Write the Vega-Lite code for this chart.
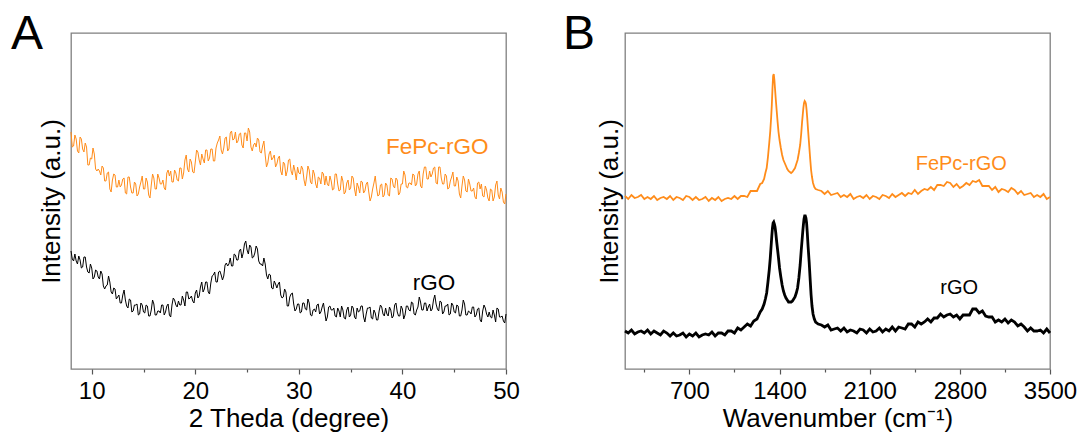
{
"$schema": "https://vega.github.io/schema/vega-lite/v6.json",
"background": "white",
"autosize": {"type": "pad"},
"padding": {"left": 10, "top": 10, "right": 0, "bottom": 0},
"spacing": 42,
"config": {
  "font": "Liberation Sans, Arial, sans-serif",
  "view": {"stroke": "#7f7f7f", "strokeWidth": 1.3},
  "axis": {"grid": false, "labelColor": "#000", "titleColor": "#000", "titleFontWeight": "normal", "labelFont": "Liberation Sans, Arial, sans-serif", "titleFont": "Liberation Sans, Arial, sans-serif"}
},
"datasets": {
"xrdF": [{"x":8,"v":237},{"x":8.25,"v":223},{"x":8.5,"v":230},{"x":8.75,"v":216},{"x":9,"v":230},{"x":9.25,"v":217},{"x":9.5,"v":222},{"x":9.75,"v":204},{"x":10,"v":210},{"x":10.25,"v":215},{"x":10.5,"v":198},{"x":10.75,"v":198},{"x":11,"v":203},{"x":11.25,"v":188},{"x":11.5,"v":196},{"x":11.75,"v":180},{"x":12,"v":189},{"x":12.25,"v":194},{"x":12.5,"v":182},{"x":12.75,"v":182},{"x":13,"v":190},{"x":13.25,"v":176},{"x":13.5,"v":192},{"x":13.75,"v":182},{"x":14,"v":176},{"x":14.25,"v":185},{"x":14.5,"v":175},{"x":14.75,"v":187},{"x":15,"v":180},{"x":15.25,"v":191},{"x":15.5,"v":174},{"x":15.75,"v":184},{"x":16,"v":191},{"x":16.25,"v":180},{"x":16.5,"v":191},{"x":16.75,"v":185},{"x":17,"v":181},{"x":17.25,"v":196},{"x":17.5,"v":193},{"x":17.75,"v":187},{"x":18,"v":199},{"x":18.25,"v":189},{"x":18.5,"v":201},{"x":18.75,"v":190},{"x":19,"v":209},{"x":19.25,"v":200},{"x":19.5,"v":210},{"x":19.75,"v":197},{"x":20,"v":207},{"x":20.25,"v":217},{"x":20.5,"v":204},{"x":20.75,"v":210},{"x":21,"v":219},{"x":21.25,"v":208},{"x":21.5,"v":220},{"x":21.75,"v":208},{"x":22,"v":221},{"x":22.25,"v":229},{"x":22.5,"v":219},{"x":22.75,"v":221},{"x":23,"v":232},{"x":23.25,"v":220},{"x":23.5,"v":238},{"x":23.75,"v":230},{"x":24,"v":226},{"x":24.25,"v":235},{"x":24.5,"v":224},{"x":24.75,"v":236},{"x":25,"v":228},{"x":25.25,"v":237},{"x":25.5,"v":218},{"x":25.75,"v":226},{"x":26,"v":231},{"x":26.25,"v":217},{"x":26.5,"v":223},{"x":26.75,"v":214},{"x":27,"v":206},{"x":27.25,"v":218},{"x":27.5,"v":211},{"x":27.75,"v":202},{"x":28,"v":211},{"x":28.25,"v":198},{"x":28.5,"v":207},{"x":28.75,"v":193},{"x":29,"v":209},{"x":29.25,"v":198},{"x":29.5,"v":204},{"x":29.75,"v":189},{"x":30,"v":196},{"x":30.25,"v":203},{"x":30.5,"v":189},{"x":30.75,"v":192},{"x":31,"v":199},{"x":31.25,"v":185},{"x":31.5,"v":195},{"x":31.75,"v":181},{"x":32,"v":191},{"x":32.25,"v":197},{"x":32.5,"v":184},{"x":32.75,"v":185},{"x":33,"v":193},{"x":33.25,"v":179},{"x":33.5,"v":195},{"x":33.75,"v":185},{"x":34,"v":179},{"x":34.25,"v":188},{"x":34.5,"v":177},{"x":34.75,"v":189},{"x":35,"v":181},{"x":35.25,"v":191},{"x":35.5,"v":173},{"x":35.75,"v":182},{"x":36,"v":188},{"x":36.25,"v":176},{"x":36.5,"v":185},{"x":36.75,"v":177},{"x":37,"v":172},{"x":37.25,"v":186},{"x":37.5,"v":181},{"x":37.75,"v":174},{"x":38,"v":185},{"x":38.25,"v":174},{"x":38.5,"v":184},{"x":38.75,"v":173},{"x":39,"v":190},{"x":39.25,"v":181},{"x":39.5,"v":189},{"x":39.75,"v":176},{"x":40,"v":185},{"x":40.25,"v":194},{"x":40.5,"v":181},{"x":40.75,"v":186},{"x":41,"v":195},{"x":41.25,"v":183},{"x":41.5,"v":195},{"x":41.75,"v":183},{"x":42,"v":195},{"x":42.25,"v":202},{"x":42.5,"v":190},{"x":42.75,"v":192},{"x":43,"v":201},{"x":43.25,"v":186},{"x":43.5,"v":202},{"x":43.75,"v":191},{"x":44,"v":185},{"x":44.25,"v":193},{"x":44.5,"v":181},{"x":44.75,"v":192},{"x":45,"v":183},{"x":45.25,"v":192},{"x":45.5,"v":175},{"x":45.75,"v":183},{"x":46,"v":189},{"x":46.25,"v":177},{"x":46.5,"v":185},{"x":46.75,"v":178},{"x":47,"v":172},{"x":47.25,"v":186},{"x":47.5,"v":180},{"x":47.75,"v":173},{"x":48,"v":183},{"x":48.25,"v":171},{"x":48.5,"v":180},{"x":48.75,"v":168},{"x":49,"v":184},{"x":49.25,"v":174},{"x":49.5,"v":181},{"x":49.75,"v":167},{"x":50,"v":175},
{"x":8.125,"v":222},{"x":8.375,"v":234},{"x":8.625,"v":218},{"x":8.875,"v":232},{"x":9.125,"v":220},{"x":9.375,"v":226},{"x":9.625,"v":204},{"x":9.875,"v":211},{"x":10.125,"v":221},{"x":10.375,"v":200},{"x":10.625,"v":200},{"x":10.875,"v":194},{"x":11.125,"v":201},{"x":11.375,"v":188},{"x":11.625,"v":197},{"x":11.875,"v":177},{"x":12.125,"v":195},{"x":12.375,"v":182},{"x":12.625,"v":189},{"x":12.875,"v":184},{"x":13.125,"v":191},{"x":13.375,"v":175},{"x":13.625,"v":192},{"x":13.875,"v":176},{"x":14.125,"v":187},{"x":14.375,"v":173},{"x":14.625,"v":182},{"x":14.875,"v":193},{"x":15.125,"v":180},{"x":15.375,"v":187},{"x":15.625,"v":171},{"x":15.875,"v":195},{"x":16.125,"v":180},{"x":16.375,"v":195},{"x":16.625,"v":185},{"x":16.875,"v":189},{"x":17.125,"v":179},{"x":17.375,"v":199},{"x":17.625,"v":198},{"x":17.875,"v":187},{"x":18.125,"v":196},{"x":18.375,"v":188},{"x":18.625,"v":201},{"x":18.875,"v":196},{"x":19.125,"v":214},{"x":19.375,"v":197},{"x":19.625,"v":207},{"x":19.875,"v":196},{"x":20.125,"v":219},{"x":20.375,"v":209},{"x":20.625,"v":215},{"x":20.875,"v":206},{"x":21.125,"v":219},{"x":21.375,"v":211},{"x":21.625,"v":220},{"x":21.875,"v":208},{"x":22.125,"v":226},{"x":22.375,"v":233},{"x":22.625,"v":215},{"x":22.875,"v":231},{"x":23.125,"v":218},{"x":23.375,"v":236},{"x":23.625,"v":229},{"x":23.875,"v":237},{"x":24.125,"v":228},{"x":24.375,"v":236},{"x":24.625,"v":221},{"x":24.875,"v":236},{"x":25.125,"v":241},{"x":25.375,"v":222},{"x":25.625,"v":224},{"x":25.875,"v":222},{"x":26.125,"v":229},{"x":26.375,"v":216},{"x":26.625,"v":228},{"x":26.875,"v":202},{"x":27.125,"v":215},{"x":27.375,"v":209},{"x":27.625,"v":214},{"x":27.875,"v":205},{"x":28.125,"v":213},{"x":28.375,"v":194},{"x":28.625,"v":205},{"x":28.875,"v":198},{"x":29.125,"v":210},{"x":29.375,"v":194},{"x":29.625,"v":198},{"x":29.875,"v":202},{"x":30.125,"v":195},{"x":30.375,"v":200},{"x":30.625,"v":183},{"x":30.875,"v":203},{"x":31.125,"v":187},{"x":31.375,"v":199},{"x":31.625,"v":185},{"x":31.875,"v":192},{"x":32.125,"v":185},{"x":32.375,"v":195},{"x":32.625,"v":193},{"x":32.875,"v":183},{"x":33.125,"v":188},{"x":33.375,"v":180},{"x":33.625,"v":195},{"x":33.875,"v":178},{"x":34.125,"v":193},{"x":34.375,"v":175},{"x":34.625,"v":186},{"x":34.875,"v":179},{"x":35.125,"v":193},{"x":35.375,"v":180},{"x":35.625,"v":186},{"x":35.875,"v":176},{"x":36.125,"v":187},{"x":36.375,"v":178},{"x":36.625,"v":187},{"x":36.875,"v":168},{"x":37.125,"v":180},{"x":37.375,"v":193},{"x":37.625,"v":173},{"x":37.875,"v":184},{"x":38.125,"v":172},{"x":38.375,"v":186},{"x":38.625,"v":174},{"x":38.875,"v":191},{"x":39.125,"v":183},{"x":39.375,"v":191},{"x":39.625,"v":174},{"x":39.875,"v":185},{"x":40.125,"v":198},{"x":40.375,"v":182},{"x":40.625,"v":186},{"x":40.875,"v":184},{"x":41.125,"v":194},{"x":41.375,"v":185},{"x":41.625,"v":198},{"x":41.875,"v":181},{"x":42.125,"v":202},{"x":42.375,"v":190},{"x":42.625,"v":198},{"x":42.875,"v":195},{"x":43.125,"v":202},{"x":43.375,"v":185},{"x":43.625,"v":202},{"x":43.875,"v":185},{"x":44.125,"v":195},{"x":44.375,"v":180},{"x":44.625,"v":188},{"x":44.875,"v":197},{"x":45.125,"v":183},{"x":45.375,"v":188},{"x":45.625,"v":171},{"x":45.875,"v":193},{"x":46.125,"v":178},{"x":46.375,"v":190},{"x":46.625,"v":178},{"x":46.875,"v":181},{"x":47.125,"v":170},{"x":47.375,"v":187},{"x":47.625,"v":185},{"x":47.875,"v":172},{"x":48.125,"v":179},{"x":48.375,"v":168},{"x":48.625,"v":179},{"x":48.875,"v":172},{"x":49.125,"v":188},{"x":49.375,"v":170},{"x":49.625,"v":177},{"x":49.875,"v":165}],
"xrdR": [{"x":8,"v":118},{"x":8.25,"v":108},{"x":8.5,"v":108},{"x":8.75,"v":113},{"x":9,"v":101},{"x":9.25,"v":112},{"x":9.5,"v":102},{"x":9.75,"v":96},{"x":10,"v":101},{"x":10.25,"v":92},{"x":10.5,"v":98},{"x":10.75,"v":90},{"x":11,"v":95},{"x":11.25,"v":80},{"x":11.5,"v":84},{"x":11.75,"v":87},{"x":12,"v":75},{"x":12.25,"v":80},{"x":12.5,"v":72},{"x":12.75,"v":66},{"x":13,"v":74},{"x":13.25,"v":69},{"x":13.5,"v":61},{"x":13.75,"v":69},{"x":14,"v":58},{"x":14.25,"v":64},{"x":14.5,"v":54},{"x":14.75,"v":66},{"x":15,"v":57},{"x":15.25,"v":64},{"x":15.5,"v":53},{"x":15.75,"v":59},{"x":16,"v":65},{"x":16.25,"v":54},{"x":16.5,"v":58},{"x":16.75,"v":64},{"x":17,"v":54},{"x":17.25,"v":63},{"x":17.5,"v":54},{"x":17.75,"v":64},{"x":18,"v":69},{"x":18.25,"v":62},{"x":18.5,"v":64},{"x":18.75,"v":73},{"x":19,"v":63},{"x":19.25,"v":77},{"x":19.5,"v":71},{"x":19.75,"v":68},{"x":20,"v":76},{"x":20.25,"v":71},{"x":20.5,"v":82},{"x":20.75,"v":77},{"x":21,"v":87},{"x":21.25,"v":77},{"x":21.5,"v":86},{"x":21.75,"v":94},{"x":22,"v":87},{"x":22.25,"v":97},{"x":22.5,"v":94},{"x":22.75,"v":93},{"x":23,"v":106},{"x":23.25,"v":105},{"x":23.5,"v":103},{"x":23.75,"v":115},{"x":24,"v":109},{"x":24.25,"v":118},{"x":24.5,"v":111},{"x":24.75,"v":125},{"x":25,"v":119},{"x":25.25,"v":124},{"x":25.5,"v":111},{"x":25.75,"v":116},{"x":26,"v":120},{"x":26.25,"v":105},{"x":26.5,"v":103},{"x":26.75,"v":105},{"x":27,"v":90},{"x":27.25,"v":94},{"x":27.5,"v":80},{"x":27.75,"v":85},{"x":28,"v":85},{"x":28.25,"v":74},{"x":28.5,"v":72},{"x":28.75,"v":77},{"x":29,"v":63},{"x":29.25,"v":75},{"x":29.5,"v":65},{"x":29.75,"v":60},{"x":30,"v":65},{"x":30.25,"v":57},{"x":30.5,"v":66},{"x":30.75,"v":59},{"x":31,"v":66},{"x":31.25,"v":53},{"x":31.5,"v":60},{"x":31.75,"v":64},{"x":32,"v":55},{"x":32.25,"v":62},{"x":32.5,"v":57},{"x":32.75,"v":52},{"x":33,"v":63},{"x":33.25,"v":59},{"x":33.5,"v":53},{"x":33.75,"v":61},{"x":34,"v":52},{"x":34.25,"v":59},{"x":34.5,"v":50},{"x":34.75,"v":62},{"x":35,"v":54},{"x":35.25,"v":61},{"x":35.5,"v":50},{"x":35.75,"v":57},{"x":36,"v":63},{"x":36.25,"v":52},{"x":36.5,"v":55},{"x":36.75,"v":61},{"x":37,"v":51},{"x":37.25,"v":59},{"x":37.5,"v":49},{"x":37.75,"v":58},{"x":38,"v":62},{"x":38.25,"v":53},{"x":38.5,"v":55},{"x":38.75,"v":62},{"x":39,"v":51},{"x":39.25,"v":64},{"x":39.5,"v":57},{"x":39.75,"v":53},{"x":40,"v":60},{"x":40.25,"v":54},{"x":40.5,"v":63},{"x":40.75,"v":58},{"x":41,"v":66},{"x":41.25,"v":54},{"x":41.5,"v":62},{"x":41.75,"v":67},{"x":42,"v":59},{"x":42.25,"v":66},{"x":42.5,"v":62},{"x":42.75,"v":58},{"x":43,"v":69},{"x":43.25,"v":65},{"x":43.5,"v":58},{"x":43.75,"v":67},{"x":44,"v":57},{"x":44.25,"v":63},{"x":44.5,"v":54},{"x":44.75,"v":66},{"x":45,"v":57},{"x":45.25,"v":64},{"x":45.5,"v":53},{"x":45.75,"v":59},{"x":46,"v":65},{"x":46.25,"v":54},{"x":46.5,"v":57},{"x":46.75,"v":62},{"x":47,"v":52},{"x":47.25,"v":60},{"x":47.5,"v":49},{"x":47.75,"v":58},{"x":48,"v":61},{"x":48.25,"v":52},{"x":48.5,"v":52},{"x":48.75,"v":59},{"x":49,"v":47},{"x":49.25,"v":60},{"x":49.5,"v":52},{"x":49.75,"v":48},{"x":50,"v":55},
{"x":8.125,"v":110},{"x":8.375,"v":115},{"x":8.625,"v":105},{"x":8.875,"v":109},{"x":9.125,"v":102},{"x":9.375,"v":112},{"x":9.625,"v":97},{"x":9.875,"v":105},{"x":10.125,"v":90},{"x":10.375,"v":99},{"x":10.625,"v":92},{"x":10.875,"v":98},{"x":11.125,"v":83},{"x":11.375,"v":83},{"x":11.625,"v":93},{"x":11.875,"v":77},{"x":12.125,"v":81},{"x":12.375,"v":70},{"x":12.625,"v":74},{"x":12.875,"v":66},{"x":13.125,"v":79},{"x":13.375,"v":63},{"x":13.625,"v":70},{"x":13.875,"v":57},{"x":14.125,"v":64},{"x":14.375,"v":65},{"x":14.625,"v":55},{"x":14.875,"v":64},{"x":15.125,"v":56},{"x":15.375,"v":63},{"x":15.625,"v":53},{"x":15.875,"v":69},{"x":16.125,"v":54},{"x":16.375,"v":58},{"x":16.625,"v":56},{"x":16.875,"v":64},{"x":17.125,"v":57},{"x":17.375,"v":65},{"x":17.625,"v":52},{"x":17.875,"v":71},{"x":18.125,"v":64},{"x":18.375,"v":68},{"x":18.625,"v":64},{"x":18.875,"v":69},{"x":19.125,"v":77},{"x":19.375,"v":70},{"x":19.625,"v":73},{"x":19.875,"v":66},{"x":20.125,"v":79},{"x":20.375,"v":73},{"x":20.625,"v":87},{"x":20.875,"v":80},{"x":21.125,"v":87},{"x":21.375,"v":75},{"x":21.625,"v":93},{"x":21.875,"v":97},{"x":22.125,"v":87},{"x":22.375,"v":98},{"x":22.625,"v":89},{"x":22.875,"v":104},{"x":23.125,"v":103},{"x":23.375,"v":111},{"x":23.625,"v":103},{"x":23.875,"v":114},{"x":24.125,"v":109},{"x":24.375,"v":120},{"x":24.625,"v":116},{"x":24.875,"v":128},{"x":25.125,"v":115},{"x":25.375,"v":122},{"x":25.625,"v":112},{"x":25.875,"v":123},{"x":26.125,"v":108},{"x":26.375,"v":105},{"x":26.625,"v":111},{"x":26.875,"v":94},{"x":27.125,"v":95},{"x":27.375,"v":81},{"x":27.625,"v":88},{"x":27.875,"v":81},{"x":28.125,"v":87},{"x":28.375,"v":71},{"x":28.625,"v":80},{"x":28.875,"v":63},{"x":29.125,"v":72},{"x":29.375,"v":76},{"x":29.625,"v":58},{"x":29.875,"v":65},{"x":30.125,"v":56},{"x":30.375,"v":66},{"x":30.625,"v":60},{"x":30.875,"v":70},{"x":31.125,"v":54},{"x":31.375,"v":59},{"x":31.625,"v":57},{"x":31.875,"v":65},{"x":32.125,"v":57},{"x":32.375,"v":66},{"x":32.625,"v":48},{"x":32.875,"v":62},{"x":33.125,"v":59},{"x":33.375,"v":61},{"x":33.625,"v":52},{"x":33.875,"v":58},{"x":34.125,"v":63},{"x":34.375,"v":51},{"x":34.625,"v":59},{"x":34.875,"v":52},{"x":35.125,"v":63},{"x":35.375,"v":52},{"x":35.625,"v":61},{"x":35.875,"v":58},{"x":36.125,"v":63},{"x":36.375,"v":47},{"x":36.625,"v":61},{"x":36.875,"v":62},{"x":37.125,"v":50},{"x":37.375,"v":56},{"x":37.625,"v":49},{"x":37.875,"v":64},{"x":38.125,"v":55},{"x":38.375,"v":61},{"x":38.625,"v":53},{"x":38.875,"v":59},{"x":39.125,"v":53},{"x":39.375,"v":66},{"x":39.625,"v":53},{"x":39.875,"v":63},{"x":40.125,"v":50},{"x":40.375,"v":63},{"x":40.625,"v":59},{"x":40.875,"v":67},{"x":41.125,"v":55},{"x":41.375,"v":59},{"x":41.625,"v":72},{"x":41.875,"v":59},{"x":42.125,"v":66},{"x":42.375,"v":58},{"x":42.625,"v":65},{"x":42.875,"v":60},{"x":43.125,"v":74},{"x":43.375,"v":60},{"x":43.625,"v":68},{"x":43.875,"v":55},{"x":44.125,"v":63},{"x":44.375,"v":65},{"x":44.625,"v":55},{"x":44.875,"v":64},{"x":45.125,"v":56},{"x":45.375,"v":63},{"x":45.625,"v":53},{"x":45.875,"v":69},{"x":46.125,"v":54},{"x":46.375,"v":58},{"x":46.625,"v":55},{"x":46.875,"v":62},{"x":47.125,"v":54},{"x":47.375,"v":61},{"x":47.625,"v":47},{"x":47.875,"v":64},{"x":48.125,"v":55},{"x":48.375,"v":57},{"x":48.625,"v":51},{"x":48.875,"v":54},{"x":49.125,"v":61},{"x":49.375,"v":52},{"x":49.625,"v":53},{"x":49.875,"v":46}],
"ramF": [{"x":200,"v":173},{"x":225,"v":170},{"x":250,"v":174},{"x":275,"v":171},{"x":300,"v":172},{"x":325,"v":174},{"x":350,"v":170},{"x":375,"v":172},{"x":400,"v":170},{"x":425,"v":173},{"x":450,"v":169},{"x":475,"v":171},{"x":500,"v":172},{"x":525,"v":170},{"x":550,"v":173},{"x":575,"v":169},{"x":600,"v":172},{"x":625,"v":171},{"x":650,"v":169},{"x":675,"v":173},{"x":700,"v":172},{"x":725,"v":169},{"x":750,"v":172},{"x":775,"v":169},{"x":800,"v":170},{"x":825,"v":172},{"x":850,"v":168},{"x":875,"v":171},{"x":900,"v":169},{"x":925,"v":172},{"x":950,"v":168},{"x":975,"v":170},{"x":1000,"v":171},{"x":1025,"v":170},{"x":1050,"v":173},{"x":1075,"v":170},{"x":1100,"v":173},{"x":1125,"v":173},{"x":1150,"v":172},{"x":1175,"v":178},{"x":1200,"v":178},{"x":1225,"v":178},{"x":1250,"v":185},{"x":1265,"v":186},{"x":1280,"v":190},{"x":1290,"v":196},{"x":1300,"v":201},{"x":1310,"v":212},{"x":1320,"v":226},{"x":1328,"v":238},{"x":1335,"v":252},{"x":1340,"v":264},{"x":1345,"v":280},{"x":1350,"v":293},{"x":1355,"v":295},{"x":1360,"v":289},{"x":1365,"v":280},{"x":1370,"v":271},{"x":1378,"v":258},{"x":1385,"v":247},{"x":1392,"v":237},{"x":1400,"v":229},{"x":1410,"v":221},{"x":1420,"v":214},{"x":1430,"v":209},{"x":1440,"v":206},{"x":1450,"v":203},{"x":1460,"v":200},{"x":1470,"v":198},{"x":1480,"v":197},{"x":1490,"v":196},{"x":1500,"v":197},{"x":1510,"v":199},{"x":1520,"v":201},{"x":1530,"v":205},{"x":1540,"v":209},{"x":1550,"v":216},{"x":1560,"v":224},{"x":1568,"v":235},{"x":1575,"v":247},{"x":1580,"v":254},{"x":1585,"v":261},{"x":1590,"v":266},{"x":1595,"v":268},{"x":1600,"v":267},{"x":1605,"v":265},{"x":1610,"v":259},{"x":1615,"v":251},{"x":1622,"v":238},{"x":1630,"v":224},{"x":1638,"v":210},{"x":1645,"v":199},{"x":1652,"v":192},{"x":1660,"v":186},{"x":1670,"v":182},{"x":1680,"v":180},{"x":1700,"v":179},{"x":1725,"v":178},{"x":1750,"v":175},{"x":1775,"v":178},{"x":1800,"v":174},{"x":1825,"v":175},{"x":1850,"v":176},{"x":1875,"v":172},{"x":1900,"v":174},{"x":1925,"v":172},{"x":1950,"v":175},{"x":1975,"v":170},{"x":2000,"v":172},{"x":2025,"v":173},{"x":2050,"v":171},{"x":2075,"v":174},{"x":2100,"v":170},{"x":2125,"v":173},{"x":2150,"v":172},{"x":2175,"v":170},{"x":2200,"v":174},{"x":2225,"v":173},{"x":2250,"v":171},{"x":2275,"v":175},{"x":2300,"v":172},{"x":2325,"v":174},{"x":2350,"v":176},{"x":2375,"v":173},{"x":2400,"v":176},{"x":2425,"v":175},{"x":2450,"v":179},{"x":2475,"v":175},{"x":2500,"v":178},{"x":2525,"v":180},{"x":2550,"v":179},{"x":2575,"v":182},{"x":2600,"v":179},{"x":2625,"v":184},{"x":2650,"v":184},{"x":2675,"v":183},{"x":2700,"v":187},{"x":2725,"v":186},{"x":2750,"v":182},{"x":2775,"v":185},{"x":2800,"v":181},{"x":2825,"v":183},{"x":2850,"v":186},{"x":2875,"v":184},{"x":2900,"v":188},{"x":2925,"v":187},{"x":2950,"v":189},{"x":2975,"v":183},{"x":3000,"v":183},{"x":3025,"v":183},{"x":3050,"v":179},{"x":3075,"v":182},{"x":3100,"v":177},{"x":3125,"v":180},{"x":3150,"v":179},{"x":3175,"v":177},{"x":3200,"v":181},{"x":3225,"v":179},{"x":3250,"v":175},{"x":3275,"v":178},{"x":3300,"v":174},{"x":3325,"v":175},{"x":3350,"v":176},{"x":3375,"v":172},{"x":3400,"v":174},{"x":3425,"v":172},{"x":3450,"v":175},{"x":3475,"v":170},{"x":3500,"v":172}],
"ramR": [{"x":200,"v":38},{"x":225,"v":36},{"x":250,"v":39},{"x":275,"v":35},{"x":300,"v":37},{"x":325,"v":38},{"x":350,"v":36},{"x":375,"v":39},{"x":400,"v":35},{"x":425,"v":38},{"x":450,"v":36},{"x":475,"v":34},{"x":500,"v":38},{"x":525,"v":36},{"x":550,"v":33},{"x":575,"v":36},{"x":600,"v":33},{"x":625,"v":34},{"x":650,"v":36},{"x":675,"v":32},{"x":700,"v":35},{"x":725,"v":33},{"x":750,"v":36},{"x":775,"v":32},{"x":800,"v":34},{"x":825,"v":35},{"x":850,"v":34},{"x":875,"v":37},{"x":900,"v":33},{"x":925,"v":36},{"x":950,"v":36},{"x":975,"v":34},{"x":1000,"v":38},{"x":1025,"v":38},{"x":1050,"v":36},{"x":1075,"v":41},{"x":1100,"v":39},{"x":1125,"v":42},{"x":1150,"v":45},{"x":1175,"v":43},{"x":1200,"v":48},{"x":1225,"v":50},{"x":1250,"v":57},{"x":1265,"v":60},{"x":1280,"v":65},{"x":1290,"v":70},{"x":1300,"v":76},{"x":1310,"v":87},{"x":1320,"v":99},{"x":1328,"v":111},{"x":1335,"v":124},{"x":1340,"v":133},{"x":1345,"v":141},{"x":1350,"v":146},{"x":1355,"v":147},{"x":1360,"v":145},{"x":1365,"v":142},{"x":1370,"v":137},{"x":1378,"v":127},{"x":1385,"v":119},{"x":1392,"v":111},{"x":1400,"v":101},{"x":1410,"v":92},{"x":1420,"v":84},{"x":1430,"v":78},{"x":1440,"v":74},{"x":1450,"v":71},{"x":1460,"v":69},{"x":1470,"v":67},{"x":1480,"v":67},{"x":1490,"v":67},{"x":1500,"v":68},{"x":1510,"v":70},{"x":1520,"v":72},{"x":1530,"v":76},{"x":1540,"v":81},{"x":1550,"v":91},{"x":1560,"v":104},{"x":1568,"v":118},{"x":1575,"v":129},{"x":1580,"v":137},{"x":1585,"v":144},{"x":1590,"v":150},{"x":1595,"v":153},{"x":1600,"v":153},{"x":1605,"v":151},{"x":1610,"v":146},{"x":1615,"v":137},{"x":1622,"v":122},{"x":1630,"v":107},{"x":1638,"v":89},{"x":1645,"v":74},{"x":1652,"v":63},{"x":1660,"v":55},{"x":1670,"v":50},{"x":1680,"v":47},{"x":1700,"v":45},{"x":1725,"v":44},{"x":1750,"v":42},{"x":1775,"v":44},{"x":1800,"v":39},{"x":1825,"v":40},{"x":1850,"v":41},{"x":1875,"v":38},{"x":1900,"v":41},{"x":1925,"v":37},{"x":1950,"v":39},{"x":1975,"v":38},{"x":2000,"v":36},{"x":2025,"v":40},{"x":2050,"v":39},{"x":2075,"v":36},{"x":2100,"v":40},{"x":2125,"v":37},{"x":2150,"v":38},{"x":2175,"v":41},{"x":2200,"v":37},{"x":2225,"v":40},{"x":2250,"v":38},{"x":2275,"v":42},{"x":2300,"v":38},{"x":2325,"v":42},{"x":2350,"v":41},{"x":2375,"v":40},{"x":2400,"v":45},{"x":2425,"v":45},{"x":2450,"v":42},{"x":2475,"v":47},{"x":2500,"v":45},{"x":2525,"v":47},{"x":2550,"v":50},{"x":2575,"v":47},{"x":2600,"v":51},{"x":2625,"v":51},{"x":2650,"v":55},{"x":2675,"v":52},{"x":2700,"v":54},{"x":2725,"v":55},{"x":2750,"v":52},{"x":2775,"v":54},{"x":2800,"v":50},{"x":2825,"v":54},{"x":2850,"v":54},{"x":2875,"v":54},{"x":2900,"v":60},{"x":2925,"v":60},{"x":2950,"v":56},{"x":2975,"v":58},{"x":3000,"v":53},{"x":3025,"v":52},{"x":3050,"v":52},{"x":3075,"v":47},{"x":3100,"v":49},{"x":3125,"v":47},{"x":3150,"v":50},{"x":3175,"v":46},{"x":3200,"v":49},{"x":3225,"v":47},{"x":3250,"v":43},{"x":3275,"v":45},{"x":3300,"v":42},{"x":3325,"v":38},{"x":3350,"v":41},{"x":3375,"v":38},{"x":3400,"v":38},{"x":3425,"v":39},{"x":3450,"v":36},{"x":3475,"v":40},{"x":3500,"v":36}]
},
"hconcat": [
{
  "width": 435, "height": 336,
  "title": {"text": "A", "anchor": "start", "frame": "group", "fontSize": 48, "fontWeight": "normal", "color": "#000", "font": "Liberation Sans, Arial, sans-serif", "dx": -60, "dy": 47, "offset": -17, "baseline": "alphabetic"},
  "encoding": {
    "x": {"field": "x", "type": "quantitative", "scale": {"domain": [8, 50], "nice": false, "zero": false},
      "axis": {"title": "2 Theda (degree)", "values": [10,15,20,25,30,35,40,45,50], "format": "d", "labelExpr": "datum.value % 10 === 0 ? datum.label : ''", "tickSize": {"condition": {"test": "datum.value % 10 === 0", "value": 5}, "value": 3}, "tickColor": "#555", "tickWidth": 1.2, "domain": false, "labelFontSize": 24, "labelPadding": 5, "labelFlush": false, "titleFontSize": 26, "titlePadding": 2}},
    "y": {"field": "v", "type": "quantitative", "scale": {"domain": [0, 336], "nice": false, "zero": false},
      "axis": {"title": "Intensity (a.u.)", "labels": false, "ticks": false, "domain": false, "titleFontSize": 26, "titlePadding": 12, "titleBaseline": "alphabetic"}}
  },
  "layer": [
    {"data": {"name": "xrdF"}, "mark": {"type": "line", "color": "#ff8c1a", "strokeWidth": 1}},
    {"data": {"name": "xrdR"}, "mark": {"type": "line", "color": "#000000", "strokeWidth": 1}},
    {"data": {"values": [{"x": 38.41, "v": 214.6, "label": "FePc-rGO"}]}, "mark": {"type": "text", "align": "left", "baseline": "alphabetic", "fontSize": 22.5, "color": "#ff8c1a"}, "encoding": {"text": {"field": "label"}}},
    {"data": {"values": [{"x": 41.0, "v": 79, "label": "rGO"}]}, "mark": {"type": "text", "align": "left", "baseline": "alphabetic", "fontSize": 22.5, "color": "#000000"}, "encoding": {"text": {"field": "label"}}}
  ]
},
{
  "width": 425, "height": 336,
  "title": {"text": "B", "anchor": "start", "frame": "group", "fontSize": 48, "fontWeight": "normal", "color": "#000", "font": "Liberation Sans, Arial, sans-serif", "dx": -62, "dy": 47, "offset": -17, "baseline": "alphabetic"},
  "encoding": {
    "x": {"field": "x", "type": "quantitative", "scale": {"domain": [200, 3500], "nice": false, "zero": false},
      "axis": {"title": "Wavenumber (cm⁻¹)", "values": [350,700,1050,1400,1750,2100,2450,2800,3150,3500], "format": "d", "labelExpr": "datum.value % 700 === 0 ? datum.label : ''", "tickSize": {"condition": {"test": "datum.value % 700 === 0", "value": 5}, "value": 3}, "tickColor": "#555", "tickWidth": 1.2, "domain": false, "labelFontSize": 24, "labelPadding": 5, "labelFlush": false, "titleFontSize": 26, "titlePadding": 2}},
    "y": {"field": "v", "type": "quantitative", "scale": {"domain": [0, 336], "nice": false, "zero": false},
      "axis": {"title": "Intensity (a.u.)", "labels": false, "ticks": false, "domain": false, "titleFontSize": 26, "titlePadding": 8, "titleBaseline": "alphabetic"}}
  },
  "layer": [
    {"data": {"name": "ramF"}, "mark": {"type": "line", "color": "#ff8c1a", "strokeWidth": 1.8}},
    {"data": {"name": "ramR"}, "mark": {"type": "line", "color": "#000000", "strokeWidth": 2.8}},
    {"data": {"values": [{"x": 2457, "v": 199.3, "label": "FePc-rGO"}]}, "mark": {"type": "text", "align": "left", "baseline": "alphabetic", "fontSize": 20, "color": "#ff8c1a"}, "encoding": {"text": {"field": "label"}}},
    {"data": {"values": [{"x": 2648, "v": 75, "label": "rGO"}]}, "mark": {"type": "text", "align": "left", "baseline": "alphabetic", "fontSize": 20, "color": "#000000"}, "encoding": {"text": {"field": "label"}}}
  ]
}
]
}
